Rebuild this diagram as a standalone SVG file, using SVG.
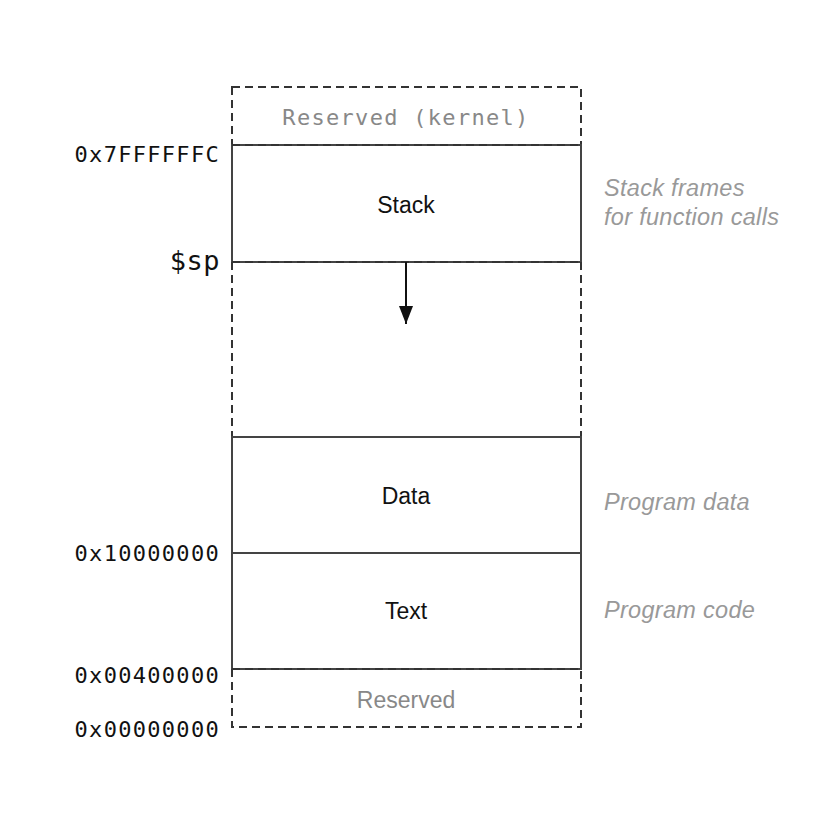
<svg xmlns="http://www.w3.org/2000/svg" width="824" height="828" viewBox="0 0 824 828">
<defs>
<style>
.mono{font-family:"DejaVu Sans Mono","Liberation Mono",monospace;font-size:22px;fill:#111;letter-spacing:1.3px}
.gmono{font-family:"DejaVu Sans Mono","Liberation Mono",monospace;font-size:22px;fill:#888;letter-spacing:1.3px}
.lbl{font-family:"Liberation Sans",Arial,sans-serif;font-size:23px;fill:#111}
.glbl{font-family:"Liberation Sans",Arial,sans-serif;font-size:23px;fill:#888}
.note{font-family:"Liberation Sans",Arial,sans-serif;font-size:23.5px;font-style:italic;fill:#999;letter-spacing:0.3px}
.solid{fill:none;stroke:#444;stroke-width:2}
.dash{fill:none;stroke:#333;stroke-width:2;stroke-dasharray:8 5}
</style>
<marker id="ah" markerWidth="18" markerHeight="14" refX="18" refY="7" orient="auto" markerUnits="userSpaceOnUse" viewBox="0 0 18 14">
<path d="M0,0 L18,7 L0,14 Z" fill="#111"/>
</marker>
</defs>
<rect width="824" height="828" fill="#fff"/>
<g id="reserved-kernel">
<rect x="232" y="87" width="349" height="58" class="dash"/>
<text x="406" y="125" text-anchor="middle" class="gmono">Reserved (kernel)</text>
</g>
<g id="stack">
<rect x="232" y="145" width="349" height="117" class="solid"/>
<line x1="232" y1="145" x2="581" y2="145" class="dash"/>
<line x1="232" y1="262" x2="581" y2="262" class="dash"/>
<text x="406" y="213" text-anchor="middle" class="lbl">Stack</text>
</g>
<g id="free">
<line x1="232" y1="262" x2="232" y2="437" class="dash"/>
<line x1="581" y1="262" x2="581" y2="437" class="dash"/>
</g>
<g id="data">
<rect x="232" y="437" width="349" height="116" class="solid"/>
<text x="406" y="504" text-anchor="middle" class="lbl">Data</text>
</g>
<g id="text">
<rect x="232" y="553" width="349" height="116" class="solid"/>
<line x1="232" y1="669" x2="581" y2="669" class="dash"/>
<text x="406" y="619" text-anchor="middle" class="lbl">Text</text>
</g>
<g id="reserved">
<path d="M232,669 V727 H581 V669" class="dash"/>
<text x="406" y="708" text-anchor="middle" class="glbl">Reserved</text>
</g>
<g id="connectors">
<line x1="406" y1="262" x2="406" y2="324" stroke="#111" stroke-width="2" marker-end="url(#ah)"/>
</g>
<g id="addresses">
<text x="220" y="162" text-anchor="end" class="mono">0x7FFFFFFC</text>
<text x="220" y="270" text-anchor="end" class="mono" style="font-size:27px;letter-spacing:0.5px">$sp</text>
<text x="220" y="561" text-anchor="end" class="mono">0x10000000</text>
<text x="220" y="683" text-anchor="end" class="mono">0x00400000</text>
<text x="220" y="737" text-anchor="end" class="mono">0x00000000</text>
</g>
<g id="notes">
<text x="604" y="196" class="note">Stack frames</text>
<text x="604" y="225" class="note">for function calls</text>
<text x="604" y="510" class="note">Program data</text>
<text x="604" y="618" class="note">Program code</text>
</g>
</svg>
